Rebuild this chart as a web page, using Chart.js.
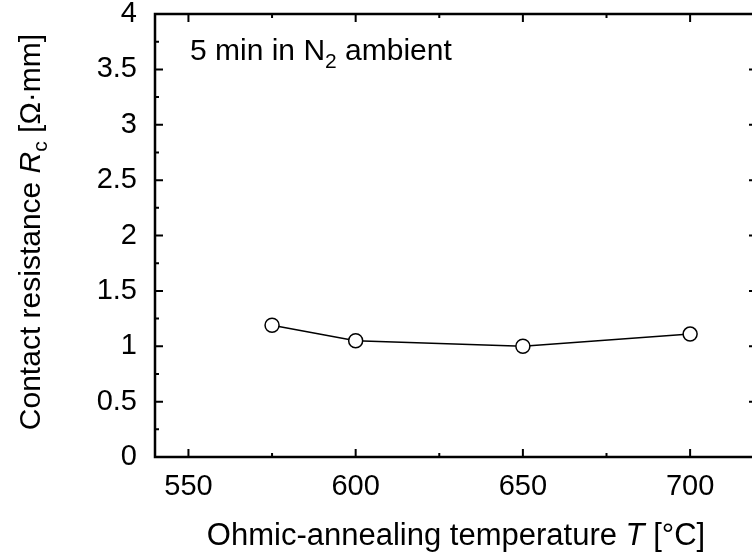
<!DOCTYPE html>
<html>
<head>
<meta charset="utf-8">
<script src="https://cdn.jsdelivr.net/npm/chart.js@4"></script>
<style>
  html, body { margin: 0; padding: 0; background: #fff; overflow: hidden; width: 752px; height: 555px; }
  #wrap { width: 800px; height: 555px; }
</style>
</head>
<body>
<div id="wrap"><canvas id="chartCanvas" width="800" height="555"></canvas></div>
<script>
// Annealing temperatures and measured contact resistance
const temps = [575, 600, 650, 700];
const resistance = [1.19, 1.05, 1.0, 1.11];

// Tick positions
const xTicks = [550, 600, 650, 700];
const xMinorTicks = [575, 625, 675];
const yTicks = [0, 0.5, 1, 1.5, 2, 2.5, 3, 3.5, 4];
const yMinorTicks = [0.25, 0.75, 1.25, 1.75, 2.25, 2.75, 3.25, 3.75];

const FONT = "'Liberation Sans', Arial, sans-serif";

// Draw a line of text made of pieces with their own font and vertical offset
function drawRich(ctx, parts, x, y, align) {
  let total = 0;
  parts.forEach((p) => {
    ctx.font = p.font;
    p.w = ctx.measureText(p.text).width;
    total += p.w;
  });
  let cx = align === "center" ? x - total / 2 : x;
  parts.forEach((p) => {
    ctx.font = p.font;
    ctx.fillText(p.text, cx, y + (p.dy || 0));
    cx += p.w;
  });
}

// Frame with inward ticks on all four sides, plus titles
const framePlugin = {
  id: "frame",
  beforeDatasetsDraw(chart) {
    const ctx = chart.ctx;
    const a = chart.chartArea;
    const xs = chart.scales.x;
    const ys = chart.scales.y;
    ctx.save();
    ctx.strokeStyle = "#000";
    ctx.lineWidth = 2;
    const tick = (vals, len) => {
      vals.forEach((v) => {
        const px = xs.getPixelForValue(v);
        ctx.beginPath();
        ctx.moveTo(px, a.bottom);
        ctx.lineTo(px, a.bottom - len);
        ctx.moveTo(px, a.top);
        ctx.lineTo(px, a.top + len);
        ctx.stroke();
      });
    };
    const ytick = (vals, len) => {
      vals.forEach((v) => {
        const py = ys.getPixelForValue(v);
        ctx.beginPath();
        ctx.moveTo(a.left, py);
        ctx.lineTo(a.left + len, py);
        ctx.moveTo(a.right, py);
        ctx.lineTo(a.right - len, py);
        ctx.stroke();
      });
    };
    tick(xTicks, 8);
    tick(xMinorTicks, 4);
    ytick(yTicks, 8);
    ytick(yMinorTicks, 4);
    ctx.lineWidth = 2.5;
    ctx.strokeRect(a.left, a.top, a.right - a.left, a.bottom - a.top);
    ctx.restore();
  },
  afterDraw(chart) {
    const ctx = chart.ctx;
    ctx.save();
    ctx.fillStyle = "#000";
    ctx.textBaseline = "alphabetic";
    ctx.textAlign = "left";

    // x axis title
    drawRich(ctx, [
      { text: "Ohmic-annealing temperature ", font: `31px ${FONT}` },
      { text: "T", font: `italic 31px ${FONT}` },
      { text: " [°C]", font: `31px ${FONT}` },
    ], 456, 545, "center");

    // y axis title, rotated
    ctx.translate(40, 232);
    ctx.rotate(-Math.PI / 2);
    drawRich(ctx, [
      { text: "Contact resistance ", font: `30px ${FONT}` },
      { text: "R", font: `italic 30px ${FONT}` },
      { text: "c", font: `21px ${FONT}`, dy: 7 },
      { text: " [Ω·mm]", font: `30px ${FONT}` },
    ], 0, 0, "center");
    ctx.setTransform(1, 0, 0, 1, 0, 0);

    // annotation inside plot
    drawRich(ctx, [
      { text: "5 min in N", font: `30px ${FONT}` },
      { text: "2", font: `21px ${FONT}`, dy: 8 },
      { text: " ambient", font: `30px ${FONT}` },
    ], 190, 60, "left");
    ctx.restore();
  },
};

const ctx = document.getElementById("chartCanvas").getContext("2d");
new Chart(ctx, {
  type: "line",
  data: {
    datasets: [
      {
        data: temps.map((t, i) => ({ x: t, y: resistance[i] })),
        borderColor: "#000",
        borderWidth: 1.5,
        pointRadius: 7,
        pointBackgroundColor: "#fff",
        pointBorderColor: "#000",
        pointBorderWidth: 1.5,
        tension: 0,
      },
    ],
  },
  options: {
    responsive: false,
    animation: false,
    devicePixelRatio: 1,
    layout: { padding: { left: 0, right: 43, top: 14, bottom: 0 } },
    plugins: { legend: { display: false }, tooltip: { enabled: false } },
    scales: {
      x: {
        type: "linear",
        min: 540,
        max: 720,
        afterBuildTicks: (s) => {
          s.ticks = xTicks.map((v) => ({ value: v }));
        },
        afterFit: (s) => {
          s.height = 98;
          s.paddingLeft = 0;
          s.paddingRight = 0;
        },
        grid: { display: false },
        border: { display: false },
        ticks: {
          color: "#000",
          font: { family: FONT, size: 29 },
          padding: 5,
          maxRotation: 0,
        },
      },
      y: {
        min: 0,
        max: 4,
        afterBuildTicks: (s) => {
          s.ticks = yTicks.map((v) => ({ value: v }));
        },
        afterFit: (s) => {
          s.width = 155;
          s.paddingTop = 0;
          s.paddingBottom = 0;
        },
        grid: { display: false },
        border: { display: false },
        ticks: {
          color: "#000",
          font: { family: FONT, size: 29 },
          padding: 10,
          callback: (v) => String(v),
        },
      },
    },
  },
  plugins: [framePlugin],
});
</script>
</body>
</html>
